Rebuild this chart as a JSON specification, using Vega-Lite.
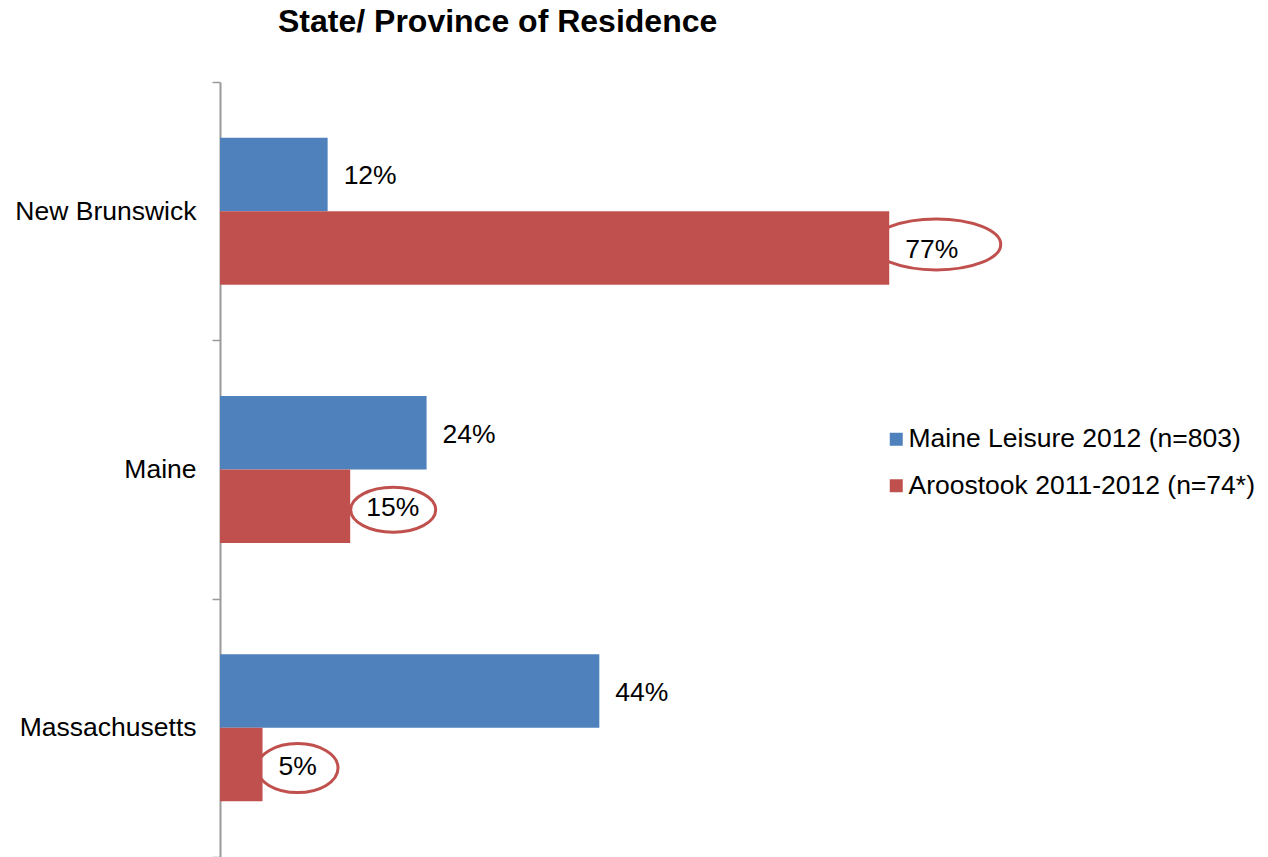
{
  "$schema": "https://vega.github.io/schema/vega-lite/v6.json",
  "width": 868,
  "height": 775,
  "autosize": {"type": "none"},
  "padding": {"left": 220, "top": 82, "right": 180, "bottom": 0},
  "title": {
    "text": "State/ Province of Residence",
    "anchor": "start",
    "frame": "group",
    "dx": 58,
    "offset": 5,
    "baseline": "alphabetic",
    "fontSize": 32,
    "fontWeight": "bold",
    "font": "Liberation Sans",
    "color": "#000000"
  },
  "config": {
    "view": {"stroke": null},
    "font": "Liberation Sans"
  },
  "data": {
    "values": [
      {"region": "New Brunswick", "series": "Maine Leisure 2012 (n=803)", "value": 0.124},
      {"region": "New Brunswick", "series": "Aroostook 2011-2012 (n=74*)", "value": 0.771},
      {"region": "Maine", "series": "Maine Leisure 2012 (n=803)", "value": 0.238},
      {"region": "Maine", "series": "Aroostook 2011-2012 (n=74*)", "value": 0.15},
      {"region": "Massachusetts", "series": "Maine Leisure 2012 (n=803)", "value": 0.437},
      {"region": "Massachusetts", "series": "Aroostook 2011-2012 (n=74*)", "value": 0.049}
    ]
  },
  "encoding": {
    "y": {
      "field": "region",
      "type": "nominal",
      "sort": ["New Brunswick", "Maine", "Massachusetts"],
      "scale": {"paddingInner": 0, "paddingOuter": 0},
      "axis": {
        "title": null,
        "tickBand": "extent",
        "tickSize": 8,
        "tickColor": "#9a9a9a",
        "tickWidth": 1.5,
        "domainColor": "#9a9a9a",
        "domainWidth": 2,
        "labelFontSize": 26.5,
        "labelColor": "#000000",
        "labelPadding": 16,
        "labelLimit": 300,
        "labelFont": "Liberation Sans"
      }
    },
    "yOffset": {
      "field": "series",
      "type": "nominal",
      "sort": ["Maine Leisure 2012 (n=803)", "Aroostook 2011-2012 (n=74*)"],
      "scale": {"paddingInner": 0, "paddingOuter": 0.757}
    },
    "x": {
      "field": "value",
      "type": "quantitative",
      "scale": {"domain": [0, 1]},
      "axis": null
    }
  },
  "layer": [
    {
      "transform": [{"filter": "datum.series === 'Aroostook 2011-2012 (n=74*)'"}],
      "mark": {"type": "point", "filled": false, "stroke": "#C0504D", "strokeWidth": 3, "size": 10000, "opacity": 1},
      "encoding": {
        "shape": {
          "field": "region",
          "type": "nominal",
          "scale": {
            "domain": ["New Brunswick", "Maine", "Massachusetts"],
            "range": [
              "M 2.23,-0.07 C 2.23,0.2117 1.6525,0.44 0.94,0.44 C 0.2275,0.44 -0.35,0.2117 -0.35,-0.07 C -0.35,-0.3517 0.2275,-0.58 0.94,-0.58 C 1.6525,-0.58 2.23,-0.3517 2.23,-0.07 Z",
              "M 1.71,0.07 C 1.71,0.3185 1.3295,0.52 0.86,0.52 C 0.3905,0.52 0.01,0.3185 0.01,0.07 C 0.01,-0.1785 0.3905,-0.38 0.86,-0.38 C 1.3295,-0.38 1.71,-0.1785 1.71,0.07 Z",
              "M 1.51,0.07 C 1.51,0.3406 1.1474,0.56 0.7,0.56 C 0.2526,0.56 -0.11,0.3406 -0.11,0.07 C -0.11,-0.2006 0.2526,-0.42 0.7,-0.42 C 1.1474,-0.42 1.51,-0.2006 1.51,0.07 Z"
            ]
          },
          "legend": null
        }
      }
    },
    {
      "mark": {"type": "bar"},
      "encoding": {
        "color": {
          "field": "series",
          "type": "nominal",
          "sort": ["Maine Leisure 2012 (n=803)", "Aroostook 2011-2012 (n=74*)"],
          "scale": {"range": ["#4F81BD", "#C0504D"]},
          "legend": {
            "title": null,
            "orient": "none",
            "legendX": 663,
            "legendY": 344,
            "symbolType": "square",
            "symbolSize": 169,
            "symbolStrokeWidth": 0,
            "labelFontSize": 26.5,
            "labelFont": "Liberation Sans",
            "labelColor": "#000000",
            "labelOffset": -1,
            "rowPadding": 19.5,
            "padding": 0,
            "labelLimit": 400
          }
        }
      }
    },
    {
      "mark": {"type": "text", "align": "left", "baseline": "middle", "dx": 16, "dy": 2, "fontSize": 26.5, "font": "Liberation Sans", "color": "#000000"},
      "encoding": {
        "text": {"field": "value", "type": "quantitative", "format": ".0%"}
      }
    }
  ]
}
